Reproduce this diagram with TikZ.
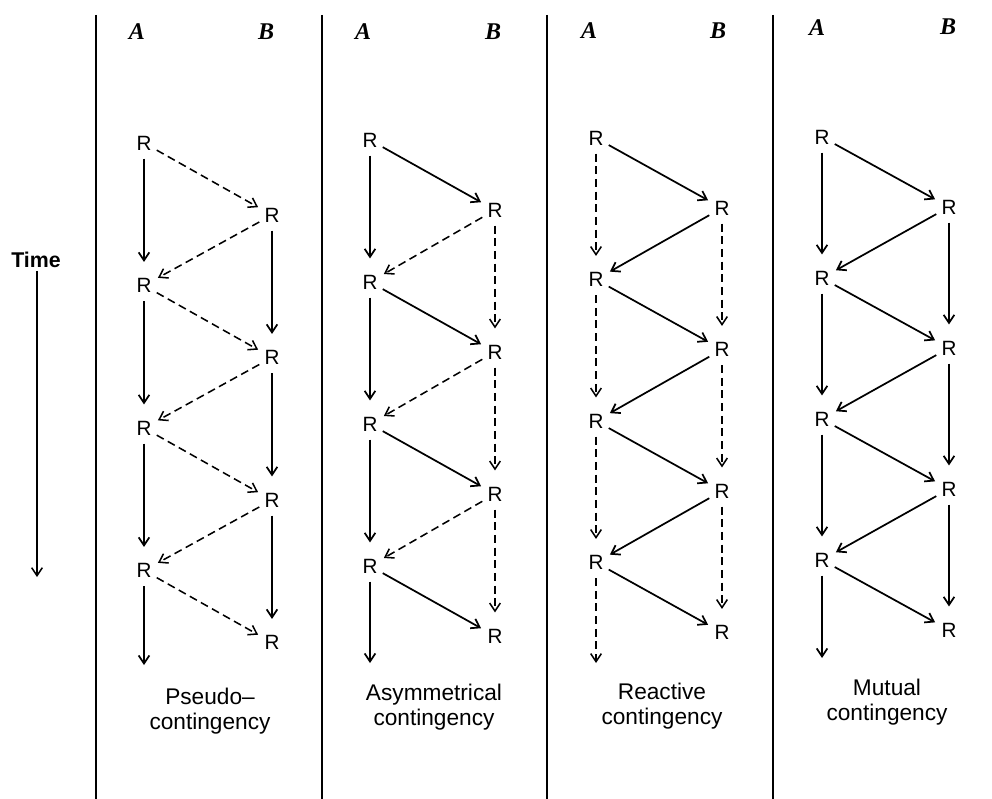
\documentclass[tikz,border=0pt]{standalone}
\usepackage{fontspec}
\setmainfont{Liberation Sans}
\newfontfamily\abfont{Liberation Serif}
\usetikzlibrary{arrows.meta}
\begin{document}
\begin{tikzpicture}[x=0.75pt,y=-0.75pt,
  rnode/.style={inner sep=2pt,text height=11pt,text depth=0pt,font=\fontsize{15.5}{17}\selectfont},
  tip/.style={-{Straight Barb[length=6pt,width=8pt]}},
  sarr/.style={tip,line width=1.3pt},
  darr/.style={tip,line width=1.15pt,dash pattern=on 6pt off 3.5pt},
  vert/.style={shorten <=4pt,shorten >=10pt},
  vend/.style={shorten <=4pt},
  diag/.style={shorten <=2pt,shorten >=3pt},
  sep/.style={line width=1.3pt},
  ablab/.style={font=\abfont\bfseries\itshape\fontsize{18}{20}\selectfont},
  lab/.style={align=center,font=\fontsize{17}{18.7}\selectfont},
  timelab/.style={font=\bfseries\fontsize{16}{18}\selectfont,inner sep=2pt}]
\useasboundingbox (0,0) rectangle (992,799);
% separators
\foreach \x [count=\k] in {96,322,547,773}{
  \coordinate (st\k) at (\x,15);
  \coordinate (sb\k) at (\x,799);
  \draw[sep] (st\k) -- (sb\k);
}
% time arrow
\node[timelab] (time) at (36,260) {Time};
\coordinate (tend) at (37,577);
\draw[tip,line width=1.1pt] (time.south -| tend) -- (tend);
% panels
\foreach \p/\ax/\bx/\ay/\by/\st/\ey/\av/\bv/\ab/\ba in {
  1/144/272/143/215/142.5/665/sarr/sarr/darr/darr,
  2/370/495/140/210/142/663/sarr/darr/sarr/darr,
  3/596/722/138/208/141.5/663/darr/darr/sarr/sarr,
  4/822/949/137/207/141/658/sarr/sarr/sarr/sarr}{
  \foreach \i in {1,...,4}{
    \node[rnode] (a\p-\i) at (\ax,{\ay+(\i-1)*\st}) {R};
    \node[rnode] (b\p-\i) at (\bx,{\by+(\i-1)*\st}) {R};
  }
  \coordinate (e\p) at (\ax,\ey);
  \foreach \i/\j in {1/2,2/3,3/4}{
    \draw[\av,vert] (a\p-\i) -- (a\p-\j);
    \draw[\bv,vert] (b\p-\i) -- (b\p-\j);
    \draw[\ba,diag] (b\p-\i) -- (a\p-\j);
  }
  \foreach \i in {1,...,4}{
    \draw[\ab,diag] (a\p-\i) -- (b\p-\i);
  }
  \draw[\av,vend] (a\p-4) -- (e\p);
}
% column heads
\node[ablab] (ha1) at (137,32) {A};
\node[ablab] (hb1) at (266,32) {B};
\node[ablab] (ha2) at (363,32) {A};
\node[ablab] (hb2) at (493,32) {B};
\node[ablab] (ha3) at (589,31) {A};
\node[ablab] (hb3) at (718,31) {B};
\node[ablab] (ha4) at (817,28) {A};
\node[ablab] (hb4) at (948,27) {B};
% captions
\node[lab] (l1) at (210,711.5) {Pseudo–\\contingency};
\node[lab] (l2) at (434,707.5) {Asymmetrical\\contingency};
\node[lab] (l3) at (662,706.5) {Reactive\\contingency};
\node[lab] (l4) at (887,702.5) {Mutual\\contingency};
\end{tikzpicture}
\end{document}
